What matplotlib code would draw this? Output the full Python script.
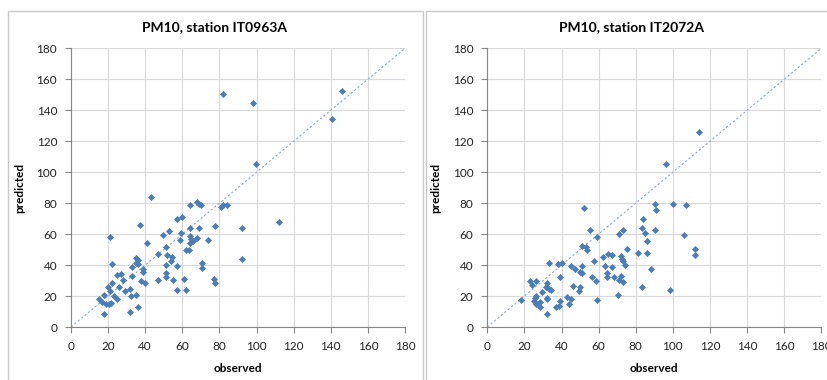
import matplotlib.pyplot as plt
from matplotlib.patches import Rectangle

# station IT0963A
obs_a = [81.9, 97.9, 145.9, 140.8, 99.9, 42.9, 63.9, 68.1, 69.0, 70.0, 80.8, 81.9, 84.1,
         56.9, 59.8, 37.0, 111.9, 77.8, 63.9, 69.0, 92.0, 53.0, 49.8, 59.1, 21.0, 63.9,
         64.7, 67.9, 73.8, 58.7, 65.6, 63.9, 41.0, 62.0, 63.4, 51.0, 46.9, 51.9, 54.2,
         53.9, 70.8, 70.8, 92.0, 51.0, 56.9, 35.2, 35.9, 35.0, 36.1, 39.0, 38.8, 32.9,
         21.9, 51.0, 51.0, 46.9, 54.8, 60.9, 76.9, 77.8, 56.9, 62.0, 37.9, 39.9, 32.9,
         28.0, 25.0, 26.9, 25.9, 22.1, 19.8, 21.0, 23.2, 25.0, 28.9, 32.0, 32.2, 34.8,
         35.9, 32.0, 18.0, 18.0, 14.9, 16.5, 18.9, 20.7, 21.6]
pred_a = [150.5, 144.9, 152.7, 134.4, 105.3, 84.0, 78.6, 80.5, 79.7, 78.8, 77.7, 79.0, 79.0,
          70.0, 71.3, 65.7, 67.6, 65.2, 64.0, 63.7, 64.2, 62.0, 59.4, 60.5, 58.4, 58.6,
          57.1, 57.7, 56.2, 56.2, 55.8, 54.0, 54.5, 50.0, 50.0, 51.5, 47.0, 46.3, 45.4,
          42.9, 41.6, 38.3, 43.7, 40.0, 39.6, 44.4, 43.3, 41.6, 40.5, 37.3, 35.7, 39.0,
          40.5, 34.7, 32.1, 30.6, 30.6, 31.0, 31.2, 28.6, 24.1, 23.7, 29.7, 28.2, 32.7,
          30.6, 33.4, 34.0, 26.0, 28.2, 25.6, 23.3, 20.2, 18.1, 23.0, 24.5, 20.0, 20.5,
          12.7, 9.7, 8.2, 20.5, 17.9, 16.4, 15.1, 14.9, 15.3]

# station IT2072A
obs_b = [114.1, 96.1, 52.3, 90.2, 100.2, 107.1, 91.1, 84.1, 83.2, 85.1, 90.2, 106.2,
         55.1, 73.3, 71.1, 59.1, 86.2, 51.0, 53.0, 53.5, 75.3, 112.1, 112.1, 81.2, 86.2,
         65.0, 67.0, 72.0, 62.2, 72.6, 73.3, 57.3, 33.2, 38.1, 40.2, 45.1, 51.0, 47.2,
         63.2, 74.2, 67.2, 88.2, 39.0, 49.9, 51.2, 56.4, 64.3, 64.3, 68.3, 72.2, 71.1,
         73.3, 58.4, 23.0, 24.3, 26.2, 32.3, 31.8, 33.0, 34.1, 29.3, 46.3, 50.1, 49.2,
         43.1, 45.1, 44.2, 39.2, 37.2, 38.4, 25.5, 26.4, 25.1, 28.4, 26.0, 28.2, 32.0,
         32.3, 32.2, 18.1, 59.1, 70.2, 83.2, 98.3]
pred_b = [125.8, 105.1, 76.9, 79.7, 79.5, 78.8, 75.4, 69.6, 64.0, 60.7, 62.4, 59.2,
          62.4, 62.4, 59.9, 58.1, 55.6, 52.1, 51.5, 50.0, 50.2, 50.4, 46.3, 47.6, 47.6,
          46.9, 46.5, 46.1, 45.0, 44.1, 42.6, 42.9, 41.6, 40.7, 41.1, 39.6, 39.2, 37.5,
          39.6, 39.8, 38.5, 37.5, 32.1, 35.3, 35.1, 32.5, 34.9, 32.1, 32.1, 32.7, 30.4,
          28.9, 29.7, 29.7, 27.1, 29.9, 28.2, 25.6, 24.3, 23.9, 22.6, 26.7, 25.6, 23.0,
          19.6, 18.3, 15.1, 16.6, 13.1, 13.8, 18.9, 19.8, 16.8, 15.9, 14.9, 12.7, 18.9,
          17.9, 8.6, 17.7, 17.7, 20.9, 25.8, 23.7]

ticks = list(range(0, 181, 20))
plt.rcParams['font.family'] = ['Lato', 'DejaVu Sans']

fig = plt.figure(figsize=(8.28, 3.8), dpi=100)
W, H = 828, 380

# chart area borders
fig.patches.append(Rectangle((8 / W, -0.1), 415 / W, 1.1 - 11 / H, transform=fig.transFigure,
                             fill=False, ec='#c8c8c8', lw=1.0))
fig.patches.append(Rectangle((426 / W, -0.1), 420 / W, 1.1 - 11 / H, transform=fig.transFigure,
                             fill=False, ec='#c8c8c8', lw=1.0))

panels = [('PM10, station IT0963A', obs_a, pred_a, 71, 215),
          ('PM10, station IT2072A', obs_b, pred_b, 487.3, 632)]

for title, x, y, left, tx in panels:
    ax = fig.add_axes([left / W, 53 / H, 334 / W, 278.7 / H])
    ax.plot([0, 180], [0, 180], ls=(0, (2, 2)), color='#8aaad6', lw=0.8, zorder=2)
    ax.scatter(x, y, marker='D', s=13, color='#4a7ebb', linewidths=0, zorder=3)
    ax.set_xlim(0, 180)
    ax.set_ylim(0, 180)
    ax.set_xticks(ticks)
    ax.set_yticks(ticks)
    ax.grid(True, color='#d9d9d9', lw=0.8)
    ax.set_axisbelow(True)
    for s in ['top', 'right']:
        ax.spines[s].set_visible(False)
    for s in ['left', 'bottom']:
        ax.spines[s].set_color('#868686')
        ax.spines[s].set_linewidth(0.8)
    ax.tick_params(length=4, width=0.8, color='#868686', labelsize=8.5, labelcolor='#222222',
                   pad=6)
    ax.set_xlabel('observed', fontsize=8.5, fontweight='bold', labelpad=8)
    ax.set_ylabel('predicted', fontsize=8.5, fontweight='bold', labelpad=8)
    fig.text(tx / W, 1 - 27 / H, title, ha='center', va='center', fontsize=10,
             fontweight='bold')

fig.savefig('out.png', dpi=100)
